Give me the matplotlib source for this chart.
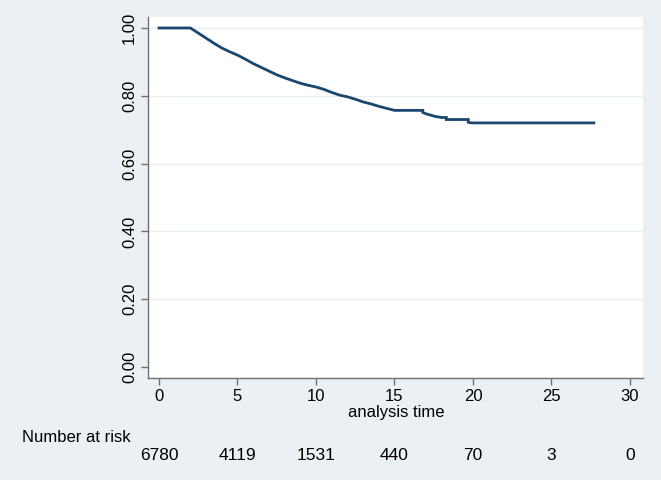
import matplotlib
matplotlib.use("Agg")
import matplotlib.pyplot as plt
import matplotlib.transforms as mtransforms

# Kaplan-Meier survival estimate
times = [0, 2.0, 2.5, 3.0, 3.5, 4.0, 4.5, 5.0, 5.5, 6.0, 6.5, 7.0, 7.5, 8.0,
         8.5, 9.0, 9.5, 10.0, 10.5, 11.0, 11.5, 12.0, 12.5, 13.0, 13.5, 14.0,
         14.5, 15.0, 16.8, 16.8, 17.0, 17.3, 17.6, 18.0, 18.3, 18.3, 19.7,
         19.7, 19.9, 27.7]
survival = [1.0, 1.0, 0.985, 0.970, 0.955, 0.941, 0.930, 0.920, 0.908,
            0.895, 0.884, 0.873, 0.862, 0.853, 0.845, 0.837, 0.831, 0.826,
            0.819, 0.810, 0.802, 0.797, 0.790, 0.782, 0.776, 0.769, 0.763,
            0.757, 0.757, 0.751, 0.747, 0.743, 0.739, 0.736, 0.736, 0.730,
            0.730, 0.722, 0.720, 0.720]

risk_times = [0, 5, 10, 15, 20, 25, 30]
risk_counts = ["6780", "4119", "1531", "440", "70", "3", "0"]
xticks = [0, 5, 10, 15, 20, 25, 30]
yticks = [0.0, 0.2, 0.4, 0.6, 0.8, 1.0]

plt.rcParams['font.family'] = ['Liberation Sans', 'DejaVu Sans']

W, H = 661, 480
bg = '#eaf0f3'
fig = plt.figure(figsize=(W / 100, H / 100), dpi=100, facecolor=bg)
ax = fig.add_axes([148 / W, 1 - 378 / H, (643 - 148) / W, (378 - 17) / H])
ax.set_facecolor('white')

for y in yticks[1:]:
    ax.axhline(y, color='#eaeff2', lw=1.0, zorder=0)

ax.plot(times, survival, color='#1a476f', lw=2.0, zorder=3,
        solid_joinstyle='miter')

ax.set_xlim(-0.70, 30.83)
ax.set_ylim(-0.0324, 1.0324)

for s in ['top', 'right']:
    ax.spines[s].set_visible(False)
for s in ['left', 'bottom']:
    ax.spines[s].set_color('#707070')
    ax.spines[s].set_linewidth(1.0)

ax.set_xticks(xticks)
ax.set_xticklabels([str(x) for x in xticks])
ax.set_yticks(yticks)
ax.set_yticklabels([f"{y:.2f}" for y in yticks], rotation=90, va='center')
ax.tick_params(axis='both', direction='out', length=5, width=1.0,
               color='#707070', labelsize=12, labelcolor='black', pad=3)

fig.text(396 / W, 1 - 412 / H, "analysis time", ha='center', va='center',
         fontsize=12)
fig.text(22 / W, 1 - 437 / H, "Number at risk", ha='left', va='center',
         fontsize=12)
trans = mtransforms.blended_transform_factory(ax.transData, fig.transFigure)
for t, c in zip(risk_times, risk_counts):
    ax.text(t, 1 - 455 / H, c, transform=trans, ha='center', va='center',
            fontsize=12.5, clip_on=False)

fig.savefig("out.png", dpi=100, facecolor=bg)
